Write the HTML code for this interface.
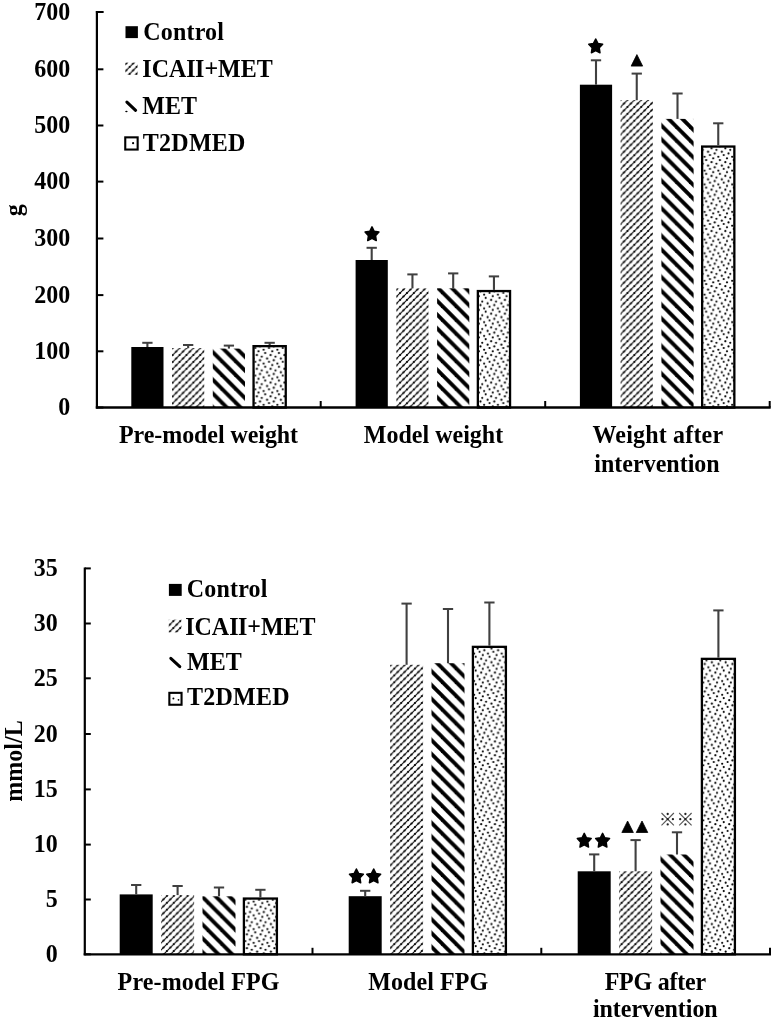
<!DOCTYPE html>
<html><head><meta charset="utf-8"><title>chart</title>
<style>
html,body{margin:0;padding:0;background:#fff;width:775px;height:1021px;overflow:hidden;}
svg{display:block;filter:grayscale(1);}
text{font-family:"Liberation Serif",serif;font-weight:bold;font-size:24px;fill:#000;}
</style></head><body>
<svg width="775" height="1021" viewBox="0 0 775 1021">
<defs><pattern id="hatchT" patternUnits="userSpaceOnUse" x="172.7" y="375.7" width="6.89" height="6.89">
<line x1="-1" y1="1" x2="1" y2="-1" stroke="#000" stroke-opacity="1" stroke-width="1.05"/>
<line x1="-1" y1="7.89" x2="7.89" y2="-1" stroke="#000" stroke-opacity="1" stroke-width="1.05"/>
<line x1="-1" y1="14.78" x2="14.78" y2="-1" stroke="#000" stroke-opacity="1" stroke-width="1.05"/>
<circle cx="0" cy="0" r="1.1"/>
<circle cx="6.89" cy="0" r="1.1"/>
<circle cx="0" cy="6.89" r="1.1"/>
<circle cx="6.89" cy="6.89" r="1.1"/>
<circle cx="3.44" cy="3.44" r="1.1"/>
</pattern>
<pattern id="hatchB" patternUnits="userSpaceOnUse" x="166.9" y="895.9" width="6.89" height="6.89">
<line x1="-1" y1="1" x2="1" y2="-1" stroke="#000" stroke-opacity="1" stroke-width="1.05"/>
<line x1="-1" y1="7.89" x2="7.89" y2="-1" stroke="#000" stroke-opacity="1" stroke-width="1.05"/>
<line x1="-1" y1="14.78" x2="14.78" y2="-1" stroke="#000" stroke-opacity="1" stroke-width="1.05"/>
<circle cx="0" cy="0" r="1.1"/>
<circle cx="6.89" cy="0" r="1.1"/>
<circle cx="0" cy="6.89" r="1.1"/>
<circle cx="6.89" cy="6.89" r="1.1"/>
<circle cx="3.44" cy="3.44" r="1.1"/>
</pattern>
<pattern id="stripeT" patternUnits="userSpaceOnUse" x="0" y="0" width="13.78" height="13.78">
<polygon points="-13.78,-42.52 27.56,-1.18 27.56,4.22 -13.78,-37.12"/>
<polygon points="-13.78,-28.74 27.56,12.6 27.56,18 -13.78,-23.34"/>
<polygon points="-13.78,-14.96 27.56,26.38 27.56,31.78 -13.78,-9.56"/>
<polygon points="-13.78,-1.18 27.56,40.16 27.56,45.56 -13.78,4.22"/>
<polygon points="-13.78,12.6 27.56,53.94 27.56,59.34 -13.78,18"/>
<polygon points="-13.78,26.38 27.56,67.72 27.56,73.12 -13.78,31.78"/>
</pattern>
<pattern id="stripeB" patternUnits="userSpaceOnUse" x="0" y="0" width="13.78" height="13.78">
<polygon points="-13.78,-52.32 27.56,-10.98 27.56,-5.58 -13.78,-46.92"/>
<polygon points="-13.78,-38.54 27.56,2.8 27.56,8.2 -13.78,-33.14"/>
<polygon points="-13.78,-24.76 27.56,16.58 27.56,21.98 -13.78,-19.36"/>
<polygon points="-13.78,-10.98 27.56,30.36 27.56,35.76 -13.78,-5.58"/>
<polygon points="-13.78,2.8 27.56,44.14 27.56,49.54 -13.78,8.2"/>
<polygon points="-13.78,16.58 27.56,57.92 27.56,63.32 -13.78,21.98"/>
</pattern>
<pattern id="dotsB" patternUnits="userSpaceOnUse" x="474" y="700" width="13.78" height="13.78">
<rect width="13.78" height="13.78" fill="#fff"/>
<circle cx="12.06" cy="1.72" r="1.08"/>
<circle cx="3.64" cy="3.64" r="1.08"/>
<circle cx="10.33" cy="5.36" r="1.08"/>
<circle cx="5.55" cy="6.89" r="1.08"/>
<circle cx="0.19" cy="8.61" r="1.08"/>
<circle cx="13.97" cy="8.61" r="1.08"/>
<circle cx="8.8" cy="10.14" r="1.08"/>
<circle cx="1.72" cy="11.86" r="1.08"/>
<circle cx="7.16" cy="0.19" r="1.08"/>
<circle cx="7.16" cy="13.97" r="1.08"/>
</pattern>
<pattern id="dotsT" patternUnits="userSpaceOnUse" x="704.44" y="148.18" width="13.78" height="13.78">
<rect width="13.78" height="13.78" fill="#fff"/>
<circle cx="12.06" cy="1.72" r="1.08"/>
<circle cx="3.64" cy="3.64" r="1.08"/>
<circle cx="10.33" cy="5.36" r="1.08"/>
<circle cx="5.55" cy="6.89" r="1.08"/>
<circle cx="0.19" cy="8.61" r="1.08"/>
<circle cx="13.97" cy="8.61" r="1.08"/>
<circle cx="8.8" cy="10.14" r="1.08"/>
<circle cx="1.72" cy="11.86" r="1.08"/>
<circle cx="7.16" cy="0.19" r="1.08"/>
<circle cx="7.16" cy="13.97" r="1.08"/>
</pattern>
<pattern id="hatchL1" patternUnits="userSpaceOnUse" x="129.7" y="66.9" width="6.89" height="6.89">
<line x1="-1" y1="1" x2="1" y2="-1" stroke="#000" stroke-opacity="1" stroke-width="1.05"/>
<line x1="-1" y1="7.89" x2="7.89" y2="-1" stroke="#000" stroke-opacity="1" stroke-width="1.05"/>
<line x1="-1" y1="14.78" x2="14.78" y2="-1" stroke="#000" stroke-opacity="1" stroke-width="1.05"/>
<circle cx="0" cy="0" r="1.1"/>
<circle cx="6.89" cy="0" r="1.1"/>
<circle cx="0" cy="6.89" r="1.1"/>
<circle cx="6.89" cy="6.89" r="1.1"/>
<circle cx="3.44" cy="3.44" r="1.1"/>
</pattern>
<pattern id="hatchL2" patternUnits="userSpaceOnUse" x="173.3" y="621.2" width="6.89" height="6.89">
<line x1="-1" y1="1" x2="1" y2="-1" stroke="#000" stroke-opacity="1" stroke-width="1.05"/>
<line x1="-1" y1="7.89" x2="7.89" y2="-1" stroke="#000" stroke-opacity="1" stroke-width="1.05"/>
<line x1="-1" y1="14.78" x2="14.78" y2="-1" stroke="#000" stroke-opacity="1" stroke-width="1.05"/>
<circle cx="0" cy="0" r="1.1"/>
<circle cx="6.89" cy="0" r="1.1"/>
<circle cx="0" cy="6.89" r="1.1"/>
<circle cx="6.89" cy="6.89" r="1.1"/>
<circle cx="3.44" cy="3.44" r="1.1"/>
</pattern></defs>
<rect width="775" height="1021" fill="#fff"/>
<g id="top">
<rect x="131.3" y="347" width="32.2" height="60.5" fill="#000"/>
<rect x="172.05" y="348.2" width="32.2" height="59.3" fill="url(#hatchT)"/>
<rect x="212.8" y="348.6" width="32.2" height="58.9" fill="url(#stripeT)"/>
<rect x="253.55" y="346.15" width="32.2" height="61.35" fill="url(#dotsT)" stroke="#000" stroke-width="2.3"/>
<rect x="355.6" y="260" width="32.2" height="147.5" fill="#000"/>
<rect x="396.35" y="288.3" width="32.2" height="119.2" fill="url(#hatchT)"/>
<rect x="437.1" y="288.3" width="32.2" height="119.2" fill="url(#stripeT)"/>
<rect x="477.85" y="291.05" width="32.2" height="116.45" fill="url(#dotsT)" stroke="#000" stroke-width="2.3"/>
<rect x="579.9" y="84.7" width="32.2" height="322.8" fill="#000"/>
<rect x="620.65" y="100.2" width="32.2" height="307.3" fill="url(#hatchT)"/>
<rect x="661.4" y="118.9" width="32.2" height="288.6" fill="url(#stripeT)"/>
<rect x="702.15" y="146.55" width="32.2" height="260.95" fill="url(#dotsT)" stroke="#000" stroke-width="2.3"/>
<line x1="147.4" y1="347" x2="147.4" y2="342.8" stroke="#404040" stroke-width="2.1"/><line x1="142.25" y1="342.8" x2="152.55" y2="342.8" stroke="#404040" stroke-width="2"/>
<line x1="188.15" y1="348.2" x2="188.15" y2="345" stroke="#404040" stroke-width="2.1"/><line x1="183" y1="345" x2="193.3" y2="345" stroke="#404040" stroke-width="2"/>
<line x1="228.9" y1="348.6" x2="228.9" y2="345.6" stroke="#404040" stroke-width="2.1"/><line x1="223.75" y1="345.6" x2="234.05" y2="345.6" stroke="#404040" stroke-width="2"/>
<line x1="269.65" y1="345" x2="269.65" y2="342.8" stroke="#404040" stroke-width="2.1"/><line x1="264.5" y1="342.8" x2="274.8" y2="342.8" stroke="#404040" stroke-width="2"/>
<line x1="371.7" y1="260" x2="371.7" y2="247.8" stroke="#404040" stroke-width="2.1"/><line x1="366.55" y1="247.8" x2="376.85" y2="247.8" stroke="#404040" stroke-width="2"/>
<line x1="412.45" y1="288.3" x2="412.45" y2="274.4" stroke="#404040" stroke-width="2.1"/><line x1="407.3" y1="274.4" x2="417.6" y2="274.4" stroke="#404040" stroke-width="2"/>
<line x1="453.2" y1="288.3" x2="453.2" y2="273.4" stroke="#404040" stroke-width="2.1"/><line x1="448.05" y1="273.4" x2="458.35" y2="273.4" stroke="#404040" stroke-width="2"/>
<line x1="493.95" y1="289.9" x2="493.95" y2="276.4" stroke="#404040" stroke-width="2.1"/><line x1="488.8" y1="276.4" x2="499.1" y2="276.4" stroke="#404040" stroke-width="2"/>
<line x1="596" y1="84.7" x2="596" y2="60.3" stroke="#404040" stroke-width="2.1"/><line x1="590.85" y1="60.3" x2="601.15" y2="60.3" stroke="#404040" stroke-width="2"/>
<line x1="636.75" y1="100.2" x2="636.75" y2="73.6" stroke="#404040" stroke-width="2.1"/><line x1="631.6" y1="73.6" x2="641.9" y2="73.6" stroke="#404040" stroke-width="2"/>
<line x1="677.5" y1="118.9" x2="677.5" y2="93.5" stroke="#404040" stroke-width="2.1"/><line x1="672.35" y1="93.5" x2="682.65" y2="93.5" stroke="#404040" stroke-width="2"/>
<line x1="718.25" y1="145.4" x2="718.25" y2="123.3" stroke="#404040" stroke-width="2.1"/><line x1="713.1" y1="123.3" x2="723.4" y2="123.3" stroke="#404040" stroke-width="2"/>
<line x1="95.8" y1="407.5" x2="770.7" y2="407.5" stroke="#000" stroke-width="2.3"/>
<line x1="95.9" y1="12" x2="103.4" y2="12" stroke="#000" stroke-width="2"/>
<line x1="96.9" y1="11" x2="96.9" y2="408.5" stroke="#000" stroke-width="2.2"/>
<line x1="96.9" y1="407.5" x2="103.4" y2="407.5" stroke="#000" stroke-width="2"/>
<text transform="translate(70.2,415.1) scale(1,1.03)" text-anchor="end">0</text>
<line x1="96.9" y1="351.3" x2="103.4" y2="351.3" stroke="#000" stroke-width="2"/>
<text transform="translate(70.2,358.9) scale(1,1.03)" text-anchor="end">100</text>
<line x1="96.9" y1="295.1" x2="103.4" y2="295.1" stroke="#000" stroke-width="2"/>
<text transform="translate(70.2,302.7) scale(1,1.03)" text-anchor="end">200</text>
<line x1="96.9" y1="238.5" x2="103.4" y2="238.5" stroke="#000" stroke-width="2"/>
<text transform="translate(70.2,246.1) scale(1,1.03)" text-anchor="end">300</text>
<line x1="96.9" y1="181.6" x2="103.4" y2="181.6" stroke="#000" stroke-width="2"/>
<text transform="translate(70.2,189.2) scale(1,1.03)" text-anchor="end">400</text>
<line x1="96.9" y1="125.5" x2="103.4" y2="125.5" stroke="#000" stroke-width="2"/>
<text transform="translate(70.2,133.1) scale(1,1.03)" text-anchor="end">500</text>
<line x1="96.9" y1="69.3" x2="103.4" y2="69.3" stroke="#000" stroke-width="2"/>
<text transform="translate(70.2,76.9) scale(1,1.03)" text-anchor="end">600</text>
<line x1="96.9" y1="12" x2="103.4" y2="12" stroke="#000" stroke-width="2"/>
<text transform="translate(70.2,19.6) scale(1,1.03)" text-anchor="end">700</text>
<line x1="320.7" y1="401" x2="320.7" y2="407.5" stroke="#000" stroke-width="2"/>
<line x1="545.2" y1="401" x2="545.2" y2="407.5" stroke="#000" stroke-width="2"/>
<line x1="769.7" y1="401" x2="769.7" y2="407.5" stroke="#000" stroke-width="2"/>
<text transform="translate(208.5,443) scale(1,1.03)" text-anchor="middle" letter-spacing="-0.07">Pre-model weight</text>
<text transform="translate(433.5,443) scale(1,1.03)" text-anchor="middle">Model weight</text>
<text transform="translate(657.9,443) scale(1,1.03)" text-anchor="middle" letter-spacing="0.18">Weight after</text>
<text transform="translate(657,471.6) scale(1,1.03)" text-anchor="middle">intervention</text>
<text transform="translate(21.5,210.3) rotate(-90) scale(1,1.03)" text-anchor="middle">g</text>
<rect x="125.5" y="26.2" width="12.4" height="11.9" fill="#000"/>
<rect x="125.3" y="62.6" width="12.4" height="12.4" fill="url(#hatchL1)"/>
<line x1="126.9" y1="102.1" x2="135.6" y2="110.3" stroke="#000" stroke-width="3.1" stroke-linecap="round"/>
<ellipse cx="126.4" cy="111.5" rx="1.2" ry="0.7" fill="#000"/>
<rect x="125.25" y="137.35" width="12.4" height="12.2" fill="#fff" stroke="#000" stroke-width="2.1"/>
<circle cx="133.1" cy="143.2" r="1.1" fill="#000"/>
<text transform="translate(143.2,39.5) scale(1,1.03)" text-anchor="start" letter-spacing="0.2">Control</text>
<text transform="translate(142.3,77) scale(1,1.03)" text-anchor="start">ICAI<tspan dx="-0.6">I</tspan>+MET</text>
<text transform="translate(142.3,113.7) scale(1,1.03)" text-anchor="start">MET</text>
<text transform="translate(142.8,150.9) scale(1,1.03)" text-anchor="start" letter-spacing="0.25">T2DMED</text>
<polygon points="372,226.8 374.2,231.24 378.94,232.05 375.56,235.61 376.29,240.55 372,238.3 367.71,240.55 368.44,235.61 365.06,232.05 369.8,231.24" fill="#000" stroke="#000" stroke-width="1.5" stroke-linejoin="round"/>
<polygon points="595.7,39 597.9,43.44 602.64,44.25 599.26,47.81 599.99,52.75 595.7,50.5 591.41,52.75 592.14,47.81 588.76,44.25 593.5,43.44" fill="#000" stroke="#000" stroke-width="1.5" stroke-linejoin="round"/>
<polygon points="636.9,54.6 642.65,66.1 631.15,66.1" fill="#000" stroke="#000" stroke-width="0.8" stroke-linejoin="round"/>
</g>
<g id="bottom">
<rect x="119.7" y="894.4" width="33" height="59.9" fill="#000"/>
<rect x="161.1" y="895.1" width="33" height="59.2" fill="url(#hatchB)"/>
<rect x="202.5" y="896.3" width="33" height="58" fill="url(#stripeB)"/>
<rect x="243.9" y="898.55" width="33" height="55.75" fill="url(#dotsB)" stroke="#000" stroke-width="2.3"/>
<rect x="348.7" y="896.2" width="33" height="58.1" fill="#000"/>
<rect x="390.1" y="664.8" width="33" height="289.5" fill="url(#hatchB)"/>
<rect x="431.5" y="663.2" width="33" height="291.1" fill="url(#stripeB)"/>
<rect x="472.9" y="646.85" width="33" height="307.45" fill="url(#dotsB)" stroke="#000" stroke-width="2.3"/>
<rect x="577.7" y="871.3" width="33" height="83" fill="#000"/>
<rect x="619.1" y="871.3" width="33" height="83" fill="url(#hatchB)"/>
<rect x="660.5" y="854.5" width="33" height="99.8" fill="url(#stripeB)"/>
<rect x="701.9" y="658.85" width="33" height="295.45" fill="url(#dotsB)" stroke="#000" stroke-width="2.3"/>
<line x1="136.2" y1="894.4" x2="136.2" y2="885" stroke="#404040" stroke-width="2.1"/><line x1="131.05" y1="885" x2="141.35" y2="885" stroke="#404040" stroke-width="2"/>
<line x1="177.6" y1="895.1" x2="177.6" y2="886" stroke="#404040" stroke-width="2.1"/><line x1="172.45" y1="886" x2="182.75" y2="886" stroke="#404040" stroke-width="2"/>
<line x1="219" y1="896.3" x2="219" y2="887.5" stroke="#404040" stroke-width="2.1"/><line x1="213.85" y1="887.5" x2="224.15" y2="887.5" stroke="#404040" stroke-width="2"/>
<line x1="260.4" y1="897.4" x2="260.4" y2="889.8" stroke="#404040" stroke-width="2.1"/><line x1="255.25" y1="889.8" x2="265.55" y2="889.8" stroke="#404040" stroke-width="2"/>
<line x1="365.2" y1="896.2" x2="365.2" y2="890.8" stroke="#404040" stroke-width="2.1"/><line x1="360.05" y1="890.8" x2="370.35" y2="890.8" stroke="#404040" stroke-width="2"/>
<line x1="406.6" y1="664.8" x2="406.6" y2="603.6" stroke="#404040" stroke-width="2.1"/><line x1="401.45" y1="603.6" x2="411.75" y2="603.6" stroke="#404040" stroke-width="2"/>
<line x1="448" y1="663.2" x2="448" y2="609" stroke="#404040" stroke-width="2.1"/><line x1="442.85" y1="609" x2="453.15" y2="609" stroke="#404040" stroke-width="2"/>
<line x1="489.4" y1="645.7" x2="489.4" y2="602.5" stroke="#404040" stroke-width="2.1"/><line x1="484.25" y1="602.5" x2="494.55" y2="602.5" stroke="#404040" stroke-width="2"/>
<line x1="594.2" y1="871.3" x2="594.2" y2="854.4" stroke="#404040" stroke-width="2.1"/><line x1="589.05" y1="854.4" x2="599.35" y2="854.4" stroke="#404040" stroke-width="2"/>
<line x1="635.6" y1="871.3" x2="635.6" y2="840.1" stroke="#404040" stroke-width="2.1"/><line x1="630.45" y1="840.1" x2="640.75" y2="840.1" stroke="#404040" stroke-width="2"/>
<line x1="677" y1="854.5" x2="677" y2="832.3" stroke="#404040" stroke-width="2.1"/><line x1="671.85" y1="832.3" x2="682.15" y2="832.3" stroke="#404040" stroke-width="2"/>
<line x1="718.4" y1="657.7" x2="718.4" y2="610.4" stroke="#404040" stroke-width="2.1"/><line x1="713.25" y1="610.4" x2="723.55" y2="610.4" stroke="#404040" stroke-width="2"/>
<line x1="84.8" y1="567.4" x2="84.8" y2="955.3" stroke="#000" stroke-width="2.2"/>
<line x1="83.7" y1="954.3" x2="771" y2="954.3" stroke="#000" stroke-width="2.3"/>
<line x1="84.8" y1="954.3" x2="90.8" y2="954.3" stroke="#000" stroke-width="2"/>
<text transform="translate(57.8,961.9) scale(1,1.03)" text-anchor="end">0</text>
<line x1="84.8" y1="899.5" x2="90.8" y2="899.5" stroke="#000" stroke-width="2"/>
<text transform="translate(57.8,907.1) scale(1,1.03)" text-anchor="end">5</text>
<line x1="84.8" y1="844.6" x2="90.8" y2="844.6" stroke="#000" stroke-width="2"/>
<text transform="translate(57.8,852.2) scale(1,1.03)" text-anchor="end">10</text>
<line x1="84.8" y1="789.4" x2="90.8" y2="789.4" stroke="#000" stroke-width="2"/>
<text transform="translate(57.8,797) scale(1,1.03)" text-anchor="end">15</text>
<line x1="84.8" y1="734" x2="90.8" y2="734" stroke="#000" stroke-width="2"/>
<text transform="translate(57.8,741.6) scale(1,1.03)" text-anchor="end">20</text>
<line x1="84.8" y1="678.3" x2="90.8" y2="678.3" stroke="#000" stroke-width="2"/>
<text transform="translate(57.8,685.9) scale(1,1.03)" text-anchor="end">25</text>
<line x1="84.8" y1="623.5" x2="90.8" y2="623.5" stroke="#000" stroke-width="2"/>
<text transform="translate(57.8,631.1) scale(1,1.03)" text-anchor="end">30</text>
<line x1="84.8" y1="568.4" x2="90.8" y2="568.4" stroke="#000" stroke-width="2"/>
<text transform="translate(57.8,576) scale(1,1.03)" text-anchor="end">35</text>
<line x1="312.5" y1="947.8" x2="312.5" y2="954.3" stroke="#000" stroke-width="2"/>
<line x1="541.3" y1="947.8" x2="541.3" y2="954.3" stroke="#000" stroke-width="2"/>
<line x1="770" y1="947.8" x2="770" y2="954.3" stroke="#000" stroke-width="2"/>
<text transform="translate(198.6,989.8) scale(1,1.03)" text-anchor="middle" letter-spacing="0.14">Pre-model FPG</text>
<text transform="translate(428.2,989.8) scale(1,1.03)" text-anchor="middle" letter-spacing="0.08">Model FPG</text>
<text transform="translate(655.3,989.8) scale(1,1.03)" text-anchor="middle" letter-spacing="-0.22">FPG after</text>
<text transform="translate(655.3,1016.9) scale(1,1.03)" text-anchor="middle" letter-spacing="-0.05">intervention</text>
<text transform="translate(21.6,761) rotate(-90) scale(1,1.03)" text-anchor="middle">mmol/L</text>
<rect x="168.9" y="583.9" width="12.8" height="12.0" fill="#000"/>
<rect x="168.7" y="619.6" width="12.8" height="12.8" fill="url(#hatchL2)"/>
<line x1="170.8" y1="658.3" x2="179.8" y2="666.7" stroke="#000" stroke-width="3.0" stroke-linecap="round"/>
<rect x="169.35" y="692.85" width="12.2" height="11.9" fill="#fff" stroke="#000" stroke-width="2.1"/>
<circle cx="173.4" cy="698.5" r="1.0" fill="#000"/>
<circle cx="178.5" cy="699.8" r="0.9" fill="#000"/>
<text transform="translate(186.7,597) scale(1,1.03)" text-anchor="start" letter-spacing="0.2">Control</text>
<text transform="translate(185.2,634.5) scale(1,1.03)" text-anchor="start">ICAI<tspan dx="-0.6">I</tspan>+MET</text>
<text transform="translate(187,670) scale(1,1.03)" text-anchor="start">MET</text>
<text transform="translate(187,705.2) scale(1,1.03)" text-anchor="start" letter-spacing="0.25">T2DMED</text>
<polygon points="356.4,869 358.6,873.44 363.34,874.25 359.96,877.81 360.69,882.75 356.4,880.5 352.11,882.75 352.84,877.81 349.46,874.25 354.2,873.44" fill="#000" stroke="#000" stroke-width="1.5" stroke-linejoin="round"/>
<polygon points="373.7,869 375.9,873.44 380.64,874.25 377.26,877.81 377.99,882.75 373.7,880.5 369.41,882.75 370.14,877.81 366.76,874.25 371.5,873.44" fill="#000" stroke="#000" stroke-width="1.5" stroke-linejoin="round"/>
<polygon points="584.25,833.3 586.45,837.74 591.19,838.55 587.81,842.11 588.54,847.05 584.25,844.8 579.96,847.05 580.69,842.11 577.31,838.55 582.05,837.74" fill="#000" stroke="#000" stroke-width="1.5" stroke-linejoin="round"/>
<polygon points="602.6,833.3 604.8,837.74 609.54,838.55 606.16,842.11 606.89,847.05 602.6,844.8 598.31,847.05 599.04,842.11 595.66,838.55 600.4,837.74" fill="#000" stroke="#000" stroke-width="1.5" stroke-linejoin="round"/>
<polygon points="627.6,821 633.35,832.5 621.85,832.5" fill="#000" stroke="#000" stroke-width="0.8" stroke-linejoin="round"/>
<polygon points="642,821 647.75,832.5 636.25,832.5" fill="#000" stroke="#000" stroke-width="0.8" stroke-linejoin="round"/>
<line x1="661.5" y1="813" x2="673.9" y2="825.4" stroke="#555" stroke-width="1.1"/>
<line x1="661.5" y1="825.4" x2="673.9" y2="813" stroke="#555" stroke-width="1.1"/>
<circle cx="667.7" cy="814" r="1.15" fill="#222"/>
<circle cx="667.7" cy="824.4" r="1.15" fill="#222"/>
<circle cx="662.5" cy="819.2" r="1.15" fill="#222"/>
<circle cx="672.9" cy="819.2" r="1.15" fill="#222"/>
<circle cx="667.7" cy="819.2" r="1.15" fill="#222"/>
<line x1="679.2" y1="813" x2="691.6" y2="825.4" stroke="#555" stroke-width="1.1"/>
<line x1="679.2" y1="825.4" x2="691.6" y2="813" stroke="#555" stroke-width="1.1"/>
<circle cx="685.4" cy="814" r="1.15" fill="#222"/>
<circle cx="685.4" cy="824.4" r="1.15" fill="#222"/>
<circle cx="680.2" cy="819.2" r="1.15" fill="#222"/>
<circle cx="690.6" cy="819.2" r="1.15" fill="#222"/>
<circle cx="685.4" cy="819.2" r="1.15" fill="#222"/>
</g>
</svg>
</body></html>
